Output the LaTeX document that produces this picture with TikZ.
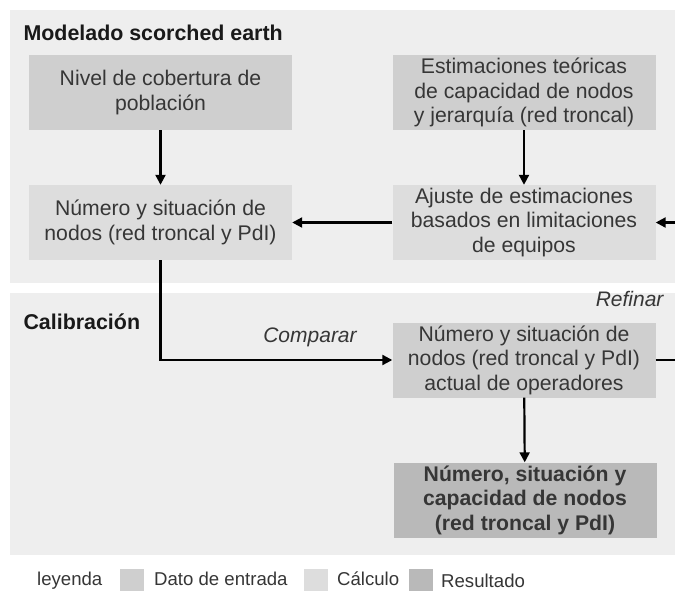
\documentclass[tikz,border=0pt]{standalone}
\usepackage{fontspec}
\setmainfont{Liberation Sans}
\usepackage{tikz}
\usetikzlibrary{arrows.meta,positioning,calc}
\definecolor{panelgris}{HTML}{EEEEEE}
\definecolor{datogris}{HTML}{CFCFCF}
\definecolor{calcgris}{HTML}{DDDDDD}
\definecolor{resgris}{HTML}{B9B9B9}
\definecolor{textogris}{HTML}{363636}
\tikzset{
  >=Stealth,
  every node/.append style={text=textogris},
}
\tikzset{
  caja/.style={draw=none, align=center, inner sep=2pt, minimum width=263pt, minimum height=75pt,
               font=\fontsize{21.2}{24.5}\selectfont},
  flecha/.style={-{Triangle[length=10pt,width=10pt]}, line width=2.2pt, black},
  panel/.style={fill=panelgris, draw=none}
}

\begin{document}
\begin{tikzpicture}[
  x=1pt, y=-1pt,
  cDato/.style={caja, fill=datogris},
  cCalc/.style={caja, fill=calcgris},
  cRes/.style ={caja, fill=resgris, font=\fontsize{21.2}{24.5}\selectfont\bfseries},
  titulo/.style={anchor=west, font=\fontsize{21.4}{24}\selectfont\bfseries, text=black!90},
  etiqueta/.style={font=\fontsize{21}{24}\selectfont\itshape},
  muestra/.style={draw=none, minimum width=24pt, minimum height=23pt, inner sep=0pt},
  leyenda/.style={anchor=base west, font=\fontsize{18.6}{20}\selectfont, inner sep=0pt}
]
\clip (0,0) rectangle (675,590);
\fill[white] (0,0) rectangle (675,590);

% Panels
\fill[panel] (10,10) rectangle (690,283);
\fill[panel] (10,293) rectangle (690,555);
\node[titulo] (tmodelado) at (20,33) {Modelado scorched earth};
\node[titulo] (tcalib) at (20,322) {Calibración};

% Boxes of the scorched earth model
\node[cDato] (nivel) at (160.5,92.5) {Nivel de cobertura de\\población};
\node[cDato] (estim) at (524,92.5) {Estimaciones teóricas\\de capacidad de nodos\\y jerarquía (red troncal)};
\node[cCalc] (numero) at (160.5,222.5) {Número y situación de\\nodos (red troncal y PdI)};
\node[cCalc] (ajuste) at (524,222.5) {Ajuste de estimaciones\\basados en limitaciones\\de equipos};

% Boxes of the calibration
\node[cDato] (actual) at (524,360) {Número y situación de\\nodos (red troncal y PdI)\\actual de operadores};
\node[cRes] (result) at (525,500) {Número, situación y\\capacidad de nodos\\(red troncal y PdI)};

% Labels of the loops
\node[etiqueta] (comparar) at (310,337) {Comparar};
\node[etiqueta, anchor=east] (refinar) at (667,299) {Refinar};

% Arrows
\draw[flecha] (nivel) -- (numero);
\draw[flecha] (estim) -- (ajuste);
\draw[flecha] (ajuste) -- (numero);
\draw[flecha] (numero.south) |- (actual.west);
\draw[flecha] (actual) -- (result);

% Refine loop past the right edge
\coordinate (borde) at (690,300);
\draw[flecha] (actual.east) -- (actual.east -| borde) |- (ajuste.east);

% Legend
\node[leyenda] (ley) at (37,585) {leyenda};
\node[muestra, fill=datogris, anchor=west] (mdato) at (120,580) {};
\node[leyenda] (ldato) at (154,585) {Dato de entrada};
\node[muestra, fill=calcgris, anchor=west] (mcalc) at (304,580) {};
\node[leyenda] (lcalc) at (337,585) {Cálculo};
\node[muestra, fill=resgris, anchor=west] (mres) at (409,580) {};
\node[leyenda] (lres) at (441,587) {Resultado};

\end{tikzpicture}
\end{document}
